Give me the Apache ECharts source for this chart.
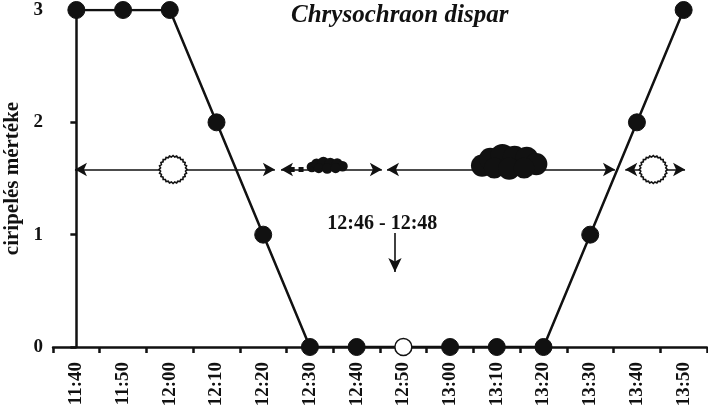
<!DOCTYPE html>
<html>
<head>
<meta charset="utf-8">
<script src="https://cdn.jsdelivr.net/npm/echarts@6/dist/echarts.min.js"></script>
<style>
  html, body { margin: 0; padding: 0; background: #fff; }
  #chart { width: 708px; height: 406px; }
</style>
</head>
<body>
<div id="chart"></div>
<script>
// chirping level through the day
const times = ["11:40", "11:50", "12:00", "12:10", "12:20", "12:30", "12:40",
  "12:50", "13:00", "13:10", "13:20", "13:30", "13:40", "13:50"];
const levels = [3, 3, 3, 2, 1, 0, 0, 0, 0, 0, 0, 1, 2, 3];
const openPoints = [7]; // 12:50 drawn as open circle

// weather strip (x in category index units)
const stripY = 1.58;
const stripSegments = [[-0.03, 4.25], [4.38, 6.54], [6.65, 11.53], [11.75, 13.03]];
const sunX = [2.07, 12.35];
const cloudBoxes = [[4.96, 5.78, 1.55, 1.68], [8.54, 9.99, 1.505, 1.78]]; // x0, x1, y0, y1
const cloudDots = [4.62, 4.81];

// note
const noteText = "12:46 - 12:48";
const notePos = [6.55, 1.095];
const noteArrow = [6.82, 1.015, 0.668]; // x, yFrom, yTo

const yTicks = [0, 1, 2, 3];
const titleText = "Chrysochraon dispar";
const yName = "ciripelés mértéke";

const serif = "Liberation Serif";
const ink = "#111";

// serrated sun outline as a symbol path
function sunPath(teeth) {
  let d = "";
  for (let i = 0; i < teeth * 2; i++) {
    const a = (Math.PI * i) / teeth;
    const r = i % 2 === 0 ? 50 : 45;
    const x = (50 + r * Math.cos(a)).toFixed(2);
    const y = (50 + r * Math.sin(a)).toFixed(2);
    d += (i === 0 ? "M" : "L") + x + " " + y + " ";
  }
  return "path://" + d + "Z";
}

// lump layout of a cloud, relative to its box (x, y as box fraction, r as height fraction)
const lumps = [
  [0.1, 0.6, 0.36], [0.22, 0.38, 0.36], [0.4, 0.3, 0.4], [0.58, 0.34, 0.38],
  [0.76, 0.36, 0.37], [0.9, 0.55, 0.36], [0.28, 0.68, 0.34], [0.5, 0.7, 0.36], [0.72, 0.68, 0.34]
];

function renderCloud(params, api) {
  const p0 = api.coord([api.value(0), api.value(3)]);
  const p1 = api.coord([api.value(1), api.value(2)]);
  const w = p1[0] - p0[0];
  const h = p1[1] - p0[1];
  return {
    type: "group",
    children: lumps.map(l => ({
      type: "circle",
      shape: { cx: p0[0] + l[0] * w, cy: p0[1] + l[1] * h, r: l[2] * h },
      style: { fill: ink }
    }))
  };
}

const chart = echarts.init(document.getElementById("chart"), null, { renderer: "canvas" });

const mainData = levels.map((v, i) => openPoints.indexOf(i) >= 0
  ? { value: v, itemStyle: { color: "#fff", borderColor: ink, borderWidth: 1.5 } }
  : v);

const stripLines = stripSegments.map(s => [
  { coord: [s[0], stripY] },
  { coord: [s[1], stripY] }
]);

chart.setOption({
  animation: false,
  backgroundColor: "#fff",
  title: {
    text: titleText,
    left: 286,
    top: -2,
    textStyle: { fontFamily: serif, fontStyle: "italic", fontWeight: "bold", fontSize: 25, color: ink }
  },
  grid: { left: 53, right: 1, top: 10, bottom: 59, containLabel: false, outerBoundsMode: "none" },
  xAxis: [
    {
      type: "category",
      data: times,
      boundaryGap: true,
      axisLine: { lineStyle: { color: ink, width: 2.5 } },
      axisTick: { show: true, length: 6, lineStyle: { color: ink, width: 2.5 } },
      axisLabel: {
        rotate: 90,
        margin: 15,
        color: ink,
        fontFamily: serif,
        fontWeight: "bold",
        fontSize: 19,
        interval: 0
      },
      splitLine: { show: false }
    },
    { type: "value", min: -0.5, max: 13.5, show: false }
  ],
  yAxis: {
    type: "value",
    min: 0,
    max: 3,
    interval: 1,
    name: yName,
    nameLocation: "middle",
    nameGap: 30,
    nameTextStyle: { fontFamily: serif, fontWeight: "bold", fontSize: 21, color: ink },
    axisLine: { show: true, lineStyle: { color: ink, width: 2.5 } },
    axisTick: { show: true, length: 6, lineStyle: { color: ink, width: 2.5 } },
    axisLabel: {
      margin: 10,
      color: ink,
      fontFamily: serif,
      fontWeight: "bold",
      fontSize: 19,
      formatter: v => (yTicks.indexOf(v) >= 0 ? String(v) : "")
    },
    splitLine: { show: false }
  },
  series: [
    {
      type: "line",
      data: mainData,
      symbol: "circle",
      symbolSize: 17,
      lineStyle: { color: ink, width: 2.5 },
      itemStyle: { color: ink, borderColor: ink, borderWidth: 1 },
      z: 5
    },
    {
      type: "scatter",
      xAxisIndex: 1,
      data: sunX.map(x => [x, stripY]),
      symbol: sunPath(24),
      symbolSize: 28,
      itemStyle: { color: "#fff", borderColor: ink, borderWidth: 1.6, opacity: 1 },
      z: 4,
      markLine: {
        silent: true,
        symbol: ["arrow", "arrow"],
        symbolSize: [10, 12],
        label: { show: false },
        lineStyle: { color: ink, width: 1.6, type: "solid" },
        data: stripLines,
        z: 2
      }
    },
    {
      type: "custom",
      xAxisIndex: 1,
      renderItem: renderCloud,
      data: cloudBoxes,
      z: 3
    },
    {
      type: "scatter",
      xAxisIndex: 1,
      data: cloudDots.map(x => [x, stripY]),
      symbol: "rect",
      symbolSize: 5,
      itemStyle: { color: ink, opacity: 1 },
      z: 3
    },
    {
      type: "scatter",
      xAxisIndex: 1,
      data: [notePos],
      symbolSize: 0,
      itemStyle: { opacity: 1 },
      label: {
        show: true,
        position: "inside",
        formatter: noteText,
        color: ink,
        textBorderWidth: 0,
        fontFamily: serif,
        fontWeight: "bold",
        fontSize: 20
      },
      markLine: {
        silent: true,
        symbol: ["none", "arrow"],
        symbolSize: [10, 14],
        label: { show: false },
        lineStyle: { color: ink, width: 1.6, type: "solid" },
        data: [[{ coord: [noteArrow[0], noteArrow[1]] }, { coord: [noteArrow[0], noteArrow[2]] }]]
      }
    }
  ]
});
</script>
</body>
</html>
